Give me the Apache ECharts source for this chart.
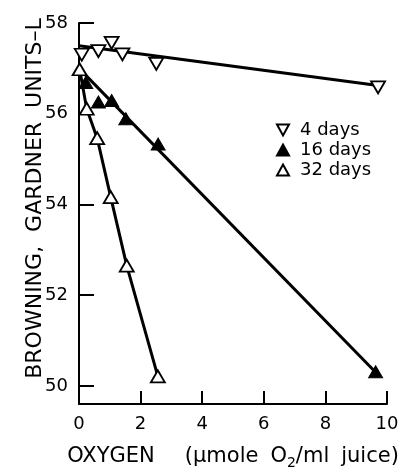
<!DOCTYPE html>
<html>
<head>
<meta charset="utf-8">
<script src="https://cdn.jsdelivr.net/npm/echarts@6/dist/echarts.min.js"></script>
<style>
  html, body { margin: 0; padding: 0; background: #fff; }
  #chart { width: 402px; height: 475px; }
</style>
</head>
<body>
<div id="chart"></div>
<script>
// Browning vs. dissolved oxygen, three storage times
const seriesNames = ['4 days', '16 days', '32 days'];

const days4X = [0.09, 0.63, 1.06, 1.41, 2.51, 9.71];
const days4Y = [57.30, 57.38, 57.56, 57.31, 57.10, 56.58];

const days16X = [0.22, 0.63, 1.06, 1.52, 2.57, 9.63];
const days16Y = [56.69, 56.26, 56.29, 55.89, 55.33, 50.31];

const days32X = [0.02, 0.25, 0.59, 1.03, 1.55, 2.56];
const days32Y = [56.98, 56.11, 55.46, 54.16, 52.65, 50.21];

// straight trend lines for the 4- and 16-day sets
const fit4X = [0, 9.71];
const fit4Y = [57.5, 56.62];
const fit16X = [0, 9.63];
const fit16Y = [57.0, 50.3];

const xTicks = [0, 2, 4, 6, 8, 10];
const yTicks = [50, 52, 54, 56, 58];

const pairs = (xs, ys) => xs.map((x, i) => [x, ys[i]]);

const FONT = 'DejaVu Sans';
const downTri = 'path://M0,0L20,0L10,18Z';
const upTri = 'path://M10,0L20,18L0,18Z';

const chart = echarts.init(document.getElementById('chart'));

const lineStyle = { color: '#000', width: 3 };

chart.setOption({
  animation: false,
  backgroundColor: '#fff',
  textStyle: { fontFamily: FONT, color: '#000' },
  grid: { left: 79, right: 15, top: 23, bottom: 65, containLabel: false },
  legend: {
    orient: 'vertical',
    left: 271,
    top: 116,
    itemGap: 2,
    itemWidth: 12,
    itemHeight: 11,
    data: [
      { name: seriesNames[0], icon: downTri },
      { name: seriesNames[1], icon: upTri },
      { name: seriesNames[2], icon: upTri }
    ],
    textStyle: { fontFamily: FONT, fontSize: 18, color: '#000', padding: [0, 0, 0, 6] }
  },
  xAxis: {
    type: 'value',
    min: 0,
    max: 10,
    interval: 2,
    name: '{t|OXYGEN}{g|}{t|(μmole}{h|}{t|O}{s|2}{t|/ml}{h|}{t|juice)}',
    nameLocation: 'middle',
    nameGap: 39,
    nameMoveOverlap: false,
    nameTextStyle: {
      rich: {
        t: { fontFamily: FONT, fontSize: 21, color: '#000' },
        g: { width: 30 },
        h: { width: 12 },
        s: { fontFamily: FONT, fontSize: 14, color: '#000', padding: [13, 0, 0, 0] }
      }
    },
    axisLine: { show: true, lineStyle: { color: '#000', width: 2 } },
    axisTick: { show: true, inside: true, length: 13, lineStyle: { color: '#000', width: 2 } },
    axisLabel: { fontFamily: FONT, fontSize: 18, color: '#000', margin: 11 },
    splitLine: { show: false }
  },
  yAxis: {
    type: 'value',
    min: 49.6,
    max: 58,
    name: 'BROWNING,  GARDNER  UNITS–L',
    nameLocation: 'middle',
    nameRotate: 90,
    nameGap: 33,
    nameMoveOverlap: false,
    nameTextStyle: { fontFamily: FONT, fontSize: 22, color: '#000', padding: [0, 0, 0, 30] },
    axisLine: { show: true, lineStyle: { color: '#000', width: 2 } },
    axisTick: {
      show: true, inside: true, length: 15,
      customValues: yTicks,
      lineStyle: { color: '#000', width: 2 }
    },
    axisLabel: {
      fontFamily: FONT, fontSize: 18, color: '#000', margin: 11,
      customValues: yTicks
    },
    splitLine: { show: false }
  },
  series: [
    {
      name: 'fit4',
      type: 'line',
      data: pairs(fit4X, fit4Y),
      showSymbol: false,
      symbol: 'none',
      lineStyle: lineStyle,
      z: 1
    },
    {
      name: 'fit16',
      type: 'line',
      data: pairs(fit16X, fit16Y),
      showSymbol: false,
      symbol: 'none',
      lineStyle: lineStyle,
      z: 1
    },
    {
      name: 'line32',
      type: 'line',
      data: pairs(days32X, days32Y),
      showSymbol: false,
      symbol: 'none',
      lineStyle: lineStyle,
      z: 1
    },
    {
      name: seriesNames[0],
      type: 'scatter',
      data: pairs(days4X, days4Y),
      symbol: downTri,
      symbolSize: [14, 12],
      itemStyle: { color: '#fff', borderColor: '#000', borderWidth: 1.8, opacity: 1 },
      z: 3
    },
    {
      name: seriesNames[1],
      type: 'scatter',
      data: pairs(days16X, days16Y),
      symbol: upTri,
      symbolSize: [14, 12],
      itemStyle: { color: '#000', borderColor: '#000', borderWidth: 1, opacity: 1 },
      z: 3
    },
    {
      name: seriesNames[2],
      type: 'scatter',
      data: pairs(days32X, days32Y),
      symbol: upTri,
      symbolSize: [14, 12],
      itemStyle: { color: '#fff', borderColor: '#000', borderWidth: 1.8, opacity: 1 },
      z: 3
    }
  ]
});
</script>
</body>
</html>
